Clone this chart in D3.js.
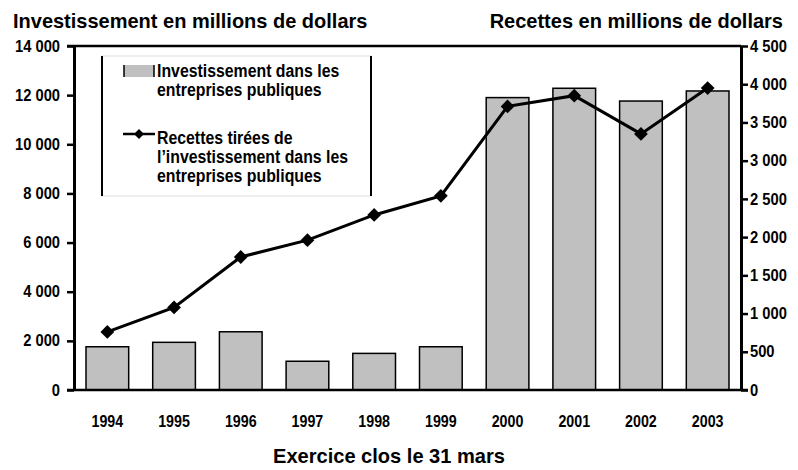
<!DOCTYPE html>
<html>
<head>
<meta charset="utf-8">
<script src="https://cdn.jsdelivr.net/npm/d3@7"></script>
<style>
  body { margin: 0; background: #fff; }
  text { font-family: "Liberation Sans", Arial, sans-serif; font-weight: bold; fill: #000; }
</style>
</head>
<body>
<div id="canvas"></div>
<script>
const width = 798;
const height = 470;

// data
const years = ['1994','1995','1996','1997','1998','1999','2000','2001','2002','2003'];
const investissement = [1760, 1940, 2370, 1170, 1490, 1760, 11900, 12280, 11760, 12170];
const recettes = [760, 1080, 1740, 1960, 2290, 2540, 3710, 3850, 3350, 3950];
const leftTicks = [0, 2000, 4000, 6000, 8000, 10000, 12000, 14000];
const rightTicks = [0, 500, 1000, 1500, 2000, 2500, 3000, 3500, 4000, 4500];

const fr = d3.formatLocale({decimal: ',', thousands: ' ', grouping: [3], currency: ['', ' $']});
const fmt = fr.format(',');

const pLeft = 74, pRight = 741, pTop = 46, pBottom = 390;

// squeeze text horizontally to look like a condensed face
function condense(sel, k) {
  sel.each(function() {
    const w = this.getComputedTextLength();
    d3.select(this).attr('textLength', w * k).attr('lengthAdjust', 'spacingAndGlyphs');
  });
}

const svg = d3.select('#canvas').append('svg')
  .attr('width', width)
  .attr('height', height)

const xScale = d3.scaleBand().domain(years).range([pLeft, pRight]).paddingInner(0.36).paddingOuter(0.18);
const yLeft = d3.scaleLinear().domain([0, 14000]).range([pBottom, pTop]);
const yRight = d3.scaleLinear().domain([0, 4500]).range([pBottom, pTop]);

// bars
svg.append('g').selectAll('rect')
  .data(investissement)
  .join('rect')
  .attr('x', (d, i) => xScale(years[i]))
  .attr('y', d => yLeft(d))
  .attr('width', xScale.bandwidth())
  .attr('height', d => pBottom - yLeft(d))
  .attr('fill', '#c0c0c0')
  .attr('stroke', '#000')
  .attr('stroke-width', 1.5);

// axes
const leftAxis = d3.axisLeft(yLeft).tickValues(leftTicks).tickFormat(fmt).tickSizeInner(7).tickSizeOuter(0).tickPadding(7);
const rightAxis = d3.axisRight(yRight).tickValues(rightTicks).tickFormat(fmt).tickSizeInner(7).tickSizeOuter(0).tickPadding(2);

const gl = svg.append('g').attr('transform', `translate(${pLeft},0)`).call(leftAxis);
const gr = svg.append('g').attr('transform', `translate(${pRight},0)`).call(rightAxis);
[gl, gr].forEach(g => {
  g.select('.domain').attr('stroke', '#000').attr('stroke-width', 3);
  g.selectAll('.tick line').attr('stroke', '#000').attr('stroke-width', 2.5);
  g.selectAll('.tick text').style('font-size', '16px').call(condense, 0.92);
});

// top border and zero line
svg.append('line').attr('x1', pLeft - 7).attr('x2', pRight).attr('y1', pTop).attr('y2', pTop)
  .attr('stroke', '#000').attr('stroke-width', 2.5);
svg.append('line').attr('x1', pLeft - 7).attr('x2', pRight + 7).attr('y1', pBottom).attr('y2', pBottom)
  .attr('stroke', '#000').attr('stroke-width', 2.5);

// year labels
svg.append('g').selectAll('text')
  .data(years)
  .join('text')
  .attr('x', d => xScale(d) + xScale.bandwidth() / 2)
  .attr('y', 427)
  .attr('text-anchor', 'middle')
  .style('font-size', '16px')
  .text(d => d)
  .call(condense, 0.89);

// line + diamonds
const line = d3.line()
  .x((d, i) => xScale(years[i]) + xScale.bandwidth() / 2)
  .y(d => yRight(d));

svg.append('path')
  .attr('d', line(recettes))
  .attr('fill', 'none')
  .attr('stroke', '#000')
  .attr('stroke-width', 3);

svg.append('g').selectAll('path')
  .data(recettes)
  .join('path')
  .attr('transform', (d, i) => `translate(${xScale(years[i]) + xScale.bandwidth() / 2},${yRight(d)}) rotate(45)`)
  .attr('d', d3.symbol().type(d3.symbolSquare).size(95))
  .attr('fill', '#000');

// legend
const lg = svg.append('g');
lg.append('rect').attr('x', 102).attr('y', 56).attr('width', 269).attr('height', 140)
  .attr('fill', '#fff').attr('stroke', '#ddd').attr('stroke-width', 1);
lg.append('line').attr('x1', 102).attr('x2', 102).attr('y1', 56).attr('y2', 196).attr('stroke', '#000').attr('stroke-width', 2);
lg.append('line').attr('x1', 371).attr('x2', 371).attr('y1', 56).attr('y2', 196).attr('stroke', '#000').attr('stroke-width', 2);

lg.append('rect').attr('x', 124).attr('y', 65).attr('width', 30).attr('height', 12).attr('fill', '#c0c0c0');
lg.append('line').attr('x1', 124).attr('x2', 124).attr('y1', 65).attr('y2', 77).attr('stroke', '#000').attr('stroke-width', 1.5);
lg.append('line').attr('x1', 154).attr('x2', 154).attr('y1', 65).attr('y2', 77).attr('stroke', '#000').attr('stroke-width', 1.5);

lg.append('line').attr('x1', 123).attr('x2', 155).attr('y1', 134).attr('y2', 134).attr('stroke', '#000').attr('stroke-width', 2.5);
lg.append('path').attr('transform', 'translate(139,134) rotate(45)')
  .attr('d', d3.symbol().type(d3.symbolSquare).size(50)).attr('fill', '#000');

const legendLines = [
  ['Investissement dans les', 77],
  ['entreprises publiques', 96],
  ['Recettes tirées de', 144],
  ['l\u2019investissement dans les', 163],
  ['entreprises publiques', 182]
];
lg.selectAll('text.leg')
  .data(legendLines)
  .join('text')
  .attr('class', 'leg')
  .attr('x', 157)
  .attr('y', d => d[1])
  .style('font-size', '18px')
  .text(d => d[0])
  .call(condense, 0.88);

// titles
svg.append('text').attr('x', 13).attr('y', 28).style('font-size', '21px')
  .text('Investissement en millions de dollars').call(condense, 0.952);
svg.append('text').attr('x', 783).attr('y', 28).attr('text-anchor', 'end').style('font-size', '21px')
  .text('Recettes en millions de dollars').call(condense, 0.952);
svg.append('text').attr('x', 389).attr('y', 463).attr('text-anchor', 'middle').style('font-size', '21px')
  .text('Exercice clos le 31 mars').call(condense, 0.955);
</script>
</body>
</html>
